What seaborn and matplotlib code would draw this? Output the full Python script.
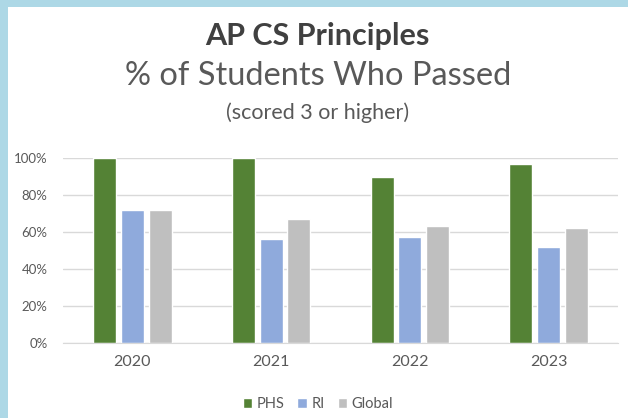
import matplotlib
matplotlib.use('Agg')
import matplotlib.pyplot as plt
from matplotlib.patches import Rectangle
from matplotlib.ticker import PercentFormatter
import pandas as pd
import seaborn as sns

# ── Données ───────────────────────────────────────────────────────────────────
years  = ['2020', '2021', '2022', '2023']
groups = ['PHS', 'RI', 'Global']
phs    = [1.00, 1.00, 0.90, 0.97]
ri     = [0.72, 0.56, 0.575, 0.52]
glob   = [0.72, 0.67, 0.63, 0.62]
colors = ['#548235', '#8FAADC', '#BFBFBF']

df = pd.DataFrame({
    'year' : years * 3,
    'group': [g for g in groups for _ in years],
    'value': phs + ri + glob,
})

# ── Figure ────────────────────────────────────────────────────────────────────
sns.set_style('white')
plt.rcParams['font.family'] = ['Lato', 'DejaVu Sans']
TXT = '#595959'

fig = plt.figure(figsize=(6.28, 4.18), dpi=100)
ax = fig.add_axes([63/628, 1 - 343/418, (618 - 63)/628, (343 - 158)/418])

sns.barplot(data=df, x='year', y='value', hue='group', palette=colors,
            hue_order=groups, width=0.6, gap=0.17, ax=ax, saturation=1)

ax.set_ylim(0, 1.0)
ax.set_yticks([0, 0.2, 0.4, 0.6, 0.8, 1.0])
ax.yaxis.set_major_formatter(PercentFormatter(1.0, decimals=0))
ax.set_xlabel(''); ax.set_ylabel('')
ax.yaxis.grid(True, color='#D9D9D9', lw=1)
ax.set_axisbelow(True)
for s in ['top', 'right', 'left']:
    ax.spines[s].set_visible(False)
ax.spines['bottom'].set_color('#D9D9D9')
ax.tick_params(axis='both', length=0, colors=TXT)
ax.tick_params(axis='y', labelsize=9.5, pad=11)
ax.tick_params(axis='x', labelsize=11.5, pad=9)

handles, labels = ax.get_legend_handles_labels()
ax.get_legend().remove()
fig.legend(handles, labels, loc='center', bbox_to_anchor=(0.506, 1 - 404/418),
           ncol=3, frameon=False, fontsize=10.5, labelcolor=TXT,
           handlelength=0.65, handleheight=0.65, handletextpad=0.3,
           columnspacing=0.9)

# ── Titres ────────────────────────────────────────────────────────────────────
fig.text(0.506, 1 - 36/418, 'AP CS Principles', ha='center', va='center',
         fontsize=22, fontweight='bold', color='#404040')
fig.text(0.506, 1 - 76/418, '% of Students Who Passed', ha='center',
         va='center', fontsize=23.5, color=TXT)
fig.text(0.506, 1 - 113/418, '(scored 3 or higher)', ha='center',
         va='center', fontsize=15.5, color=TXT)

# ── Bordure bleue ─────────────────────────────────────────────────────────────
fig.add_artist(Rectangle((0, 0), 8/628, 1, transform=fig.transFigure,
                         color='#ADD8E6', lw=0))
fig.add_artist(Rectangle((0, 1 - 7/418), 1, 7/418, transform=fig.transFigure,
                         color='#ADD8E6', lw=0))

fig.savefig('out.png', dpi=100)
